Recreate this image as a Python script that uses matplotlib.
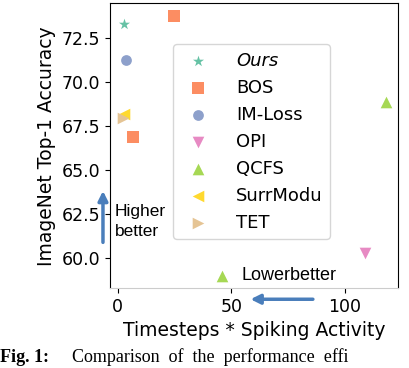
import matplotlib.pyplot as plt

# data
methods = ['Ours', 'BOS', 'IM-Loss', 'OPI', 'QCFS', 'SurrModu', 'TET']
markers = ['*', 's', 'o', 'v', '^', '<', '>']
colors = ['#66c2a5', '#fc8d62', '#8da0cb', '#e78ac3', '#a6d854', '#ffd92f', '#e5c494']
xs = [[2.6], [24.7, 6.6], [3.5], [109.0], [118.0, 46.0], [2.6], [2.2]]
ys = [[73.3], [73.8, 66.9], [71.25], [60.3], [68.9, 59.0], [68.2], [68.0]]
sizes = [70, 80, 60, 70, 70, 70, 70]

fig = plt.figure(figsize=(4.1, 3.68), dpi=100)
ax = fig.add_axes([0.268, 0.217, 0.702, 0.774])

for m, mk, c, x, y, s in zip(methods, markers, colors, xs, ys, sizes):
    ax.scatter(x, y, marker=mk, color=c, s=s, label=m, linewidths=0)

ax.set_xlim(-3.5, 123.3)
ax.set_ylim(58.3, 74.5)
ax.set_xticks([0, 50, 100])
ax.set_yticks([60.0, 62.5, 65.0, 67.5, 70.0, 72.5])
ax.set_yticklabels(['60.0', '62.5', '65.0', '67.5', '70.0', '72.5'])
ax.tick_params(labelsize=12.5)
ax.spines['bottom'].set_color('#cccccc')
ax.set_xlabel('Timesteps * Spiking Activity', fontsize=13.5)
ax.set_ylabel('ImageNet Top-1 Accuracy', fontsize=13.5)

leg = ax.legend(loc='upper left', bbox_to_anchor=(0.219, 0.856), borderaxespad=0,
                fontsize=13, handletextpad=1.1, labelspacing=0.5)
leg.get_texts()[0].set_fontstyle('italic')

arrow_c = '#4a7ebb'
ax.annotate('', xy=(-0.024, 0.351), xytext=(-0.024, 0.151), xycoords='axes fraction',
            arrowprops=dict(arrowstyle='-|>', color=arrow_c, lw=2.5, mutation_scale=14),
            annotation_clip=False)
ax.annotate('', xy=(0.479, -0.039), xytext=(0.715, -0.039), xycoords='axes fraction',
            arrowprops=dict(arrowstyle='-|>', color=arrow_c, lw=2.5, mutation_scale=14),
            annotation_clip=False)
ax.text(0.017, 0.235, 'Higher\nbetter', transform=ax.transAxes, fontsize=12.5,
        family='Liberation Sans', va='center', ha='left', linespacing=1.45)
ax.text(0.458, 0.045, 'Lowerbetter', transform=ax.transAxes, fontsize=13,
        family='Liberation Sans', va='center', ha='left')

# figure caption (cropped in the source; kept fully visible here)
fig.text(0.0, 0.005, 'Fig. 1:', family='Liberation Serif', fontweight='bold',
         fontsize=13, va='bottom', ha='left')
fig.text(72 / 410, 0.005, 'Comparison  of  the  performance  effi', family='Liberation Serif',
         fontsize=13, va='bottom', ha='left')

fig.savefig('out.png', dpi=100)
